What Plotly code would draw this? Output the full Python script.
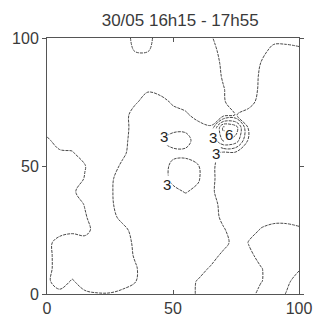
import plotly.graph_objects as go

# Grid of the measured field (5-unit spacing on both axes)
x_vals = [0, 5, 10, 15, 20, 25, 30, 35, 40, 45, 50, 55, 60, 65, 70, 75, 80, 85, 90, 95, 100]
y_vals = [0, 5, 10, 15, 20, 25, 30, 35, 40, 45, 50, 55, 60, 65, 70, 75, 80, 85, 90, 95, 100]

# One row per y value (bottom to top), one entry per x value
z_y000 = [2.5, 2.3, 2.5, 2.2, 2.05, 2.05, 2.3, 2.5, 2.5, 2.5, 2.5, 2.5, 1.85, 1.5, 1.5, 1.5, 1.5, 0.6, 0.5, -0.05, -0.6]
z_y005 = [2.2, 1.5, 2.1, 1.5, 1.5, 1.5, 1.5, 1.95, 2.5, 2.5, 2.5, 2.5, 1.9, 1.5, 1.5, 1.5, 1.5, 1.05, 0.5, 0.2, -0.4]
z_y010 = [2.35, 1.5, 1.5, 1.5, 1.5, 1.5, 1.5, 1.9, 2.5, 2.5, 2.5, 2.5, 2.5, 1.85, 1.5, 1.5, 1.5, 1.05, 0.5, 0.5, 0.1]
z_y015 = [2.35, 1.5, 1.5, 1.5, 1.5, 1.5, 1.5, 2.1, 2.5, 2.5, 2.5, 2.5, 2.5, 2.5, 1.7, 1.5, 1.3, 0.6, 0.5, 0.5, 0.5]
z_y020 = [2.35, 1.5, 1.5, 1.5, 1.5, 1.5, 1.5, 2.2, 2.5, 2.5, 2.5, 2.5, 2.5, 2.5, 2.4, 1.5, 0.95, 0.5, 0.5, 0.5, 0.5]
z_y025 = [2.5, 2.5, 2.2, 2.4, 1.5, 1.5, 1.6, 2.5, 2.5, 2.5, 2.5, 2.5, 2.5, 2.5, 2.1, 1.5, 1.5, 0.9, 0.5, 0.5, 0.8]
z_y030 = [2.5, 2.5, 2.5, 2.1, 1.5, 1.5, 2.4, 2.5, 2.5, 2.5, 2.5, 2.5, 2.5, 2.5, 1.75, 1.5, 1.5, 1.5, 1.5, 1.5, 1.5]
z_y035 = [2.5, 2.5, 2.5, 1.95, 1.5, 1.8, 2.5, 2.5, 2.5, 2.5, 2.5, 2.6, 2.5, 2.5, 1.6, 1.5, 1.5, 1.5, 1.5, 1.5, 1.5]
z_y040 = [2.5, 2.5, 2.2, 1.5, 1.5, 1.85, 2.5, 2.5, 2.5, 2.6, 2.8, 3.05, 2.8, 2.2, 1.5, 1.5, 1.5, 1.5, 1.5, 1.5, 1.5]
z_y045 = [2.5, 2.5, 2.5, 1.95, 1.5, 1.8, 2.5, 2.5, 2.5, 2.6, 3.2, 3.4, 3.1, 2.25, 1.5, 1.5, 1.5, 1.5, 1.5, 1.5, 1.5]
z_y050 = [2.5, 2.5, 2.5, 2.05, 1.5, 1.5, 2.2, 2.5, 2.5, 2.6, 3.2, 3.3, 3.05, 2.25, 1.5, 1.5, 1.5, 1.5, 1.5, 1.5, 1.5]
z_y055 = [2.5, 2.2, 2.1, 1.5, 1.5, 1.5, 1.8, 2.5, 2.5, 2.6, 2.8, 2.8, 2.6, 2.5, 1.7, 1.7, 1.5, 1.5, 1.5, 1.5, 1.5]
z_y060 = [2.2, 1.5, 1.5, 1.5, 1.5, 1.5, 1.65, 2.5, 2.5, 2.95, 3.3, 3.3, 2.6, 2.9, 5.2, 4.6, 1.8, 1.5, 1.5, 1.5, 1.5]
z_y065 = [1.5, 1.5, 1.5, 1.5, 1.5, 1.5, 1.5, 2.5, 2.5, 2.6, 2.8, 2.8, 2.5, 2.1, 6.3, 5.5, 1.8, 1.5, 1.5, 1.5, 1.5]
z_y070 = [1.5, 1.5, 1.5, 1.5, 1.5, 1.5, 1.5, 2.5, 2.5, 2.5, 2.5, 2.2, 1.5, 1.5, 1.5, 2.05, 1.5, 1.5, 1.5, 1.5, 1.5]
z_y075 = [1.5, 1.5, 1.5, 1.5, 1.5, 1.5, 1.5, 1.85, 2.5, 2.5, 1.8, 1.5, 1.5, 1.5, 1.9, 2.5, 2.5, 1.5, 1.5, 1.5, 1.5]
z_y080 = [1.5, 1.5, 1.5, 1.5, 1.5, 1.5, 1.5, 1.5, 1.85, 1.5, 1.5, 1.5, 1.5, 1.5, 1.95, 2.5, 2.5, 1.8, 1.5, 1.5, 1.5]
z_y085 = [1.5, 1.5, 1.5, 1.5, 1.5, 1.5, 1.5, 1.5, 1.5, 1.5, 1.5, 1.5, 1.5, 1.5, 2.1, 2.5, 2.5, 1.85, 1.5, 1.5, 1.5]
z_y090 = [1.5, 1.5, 1.5, 1.5, 1.5, 1.5, 1.5, 1.5, 1.5, 1.5, 1.5, 1.5, 1.5, 1.5, 2.2, 2.5, 2.5, 1.95, 1.5, 1.5, 1.5]
z_y095 = [1.5, 1.5, 1.5, 1.5, 1.5, 1.5, 1.5, 2.05, 2.05, 1.5, 1.5, 1.5, 1.5, 1.5, 2.5, 2.5, 2.5, 2.5, 1.5, 1.5, 1.75]
z_y100 = [1.5, 1.5, 1.5, 1.5, 1.5, 1.5, 1.5, 2.3, 2.3, 1.5, 1.5, 1.5, 1.5, 1.9, 2.5, 2.5, 2.5, 2.5, 2.5, 2.5, 2.5]

z_rows = [z_y000, z_y005, z_y010, z_y015, z_y020, z_y025, z_y030, z_y035, z_y040, z_y045,
          z_y050, z_y055, z_y060, z_y065, z_y070, z_y075, z_y080, z_y085, z_y090, z_y095, z_y100]

# Contour label positions and the level each one names
label_x = [46.5, 47.7, 66.0, 72.2, 67.2]
label_y = [61.7, 42.7, 61.1, 62.4, 54.8]
label_level = [3, 3, 3, 6, 3]

tick_vals = [0, 50, 100]
tick_text = ["0", "50", "100"]

title_text = "30/05 16h15 - 17h55"

FONT = "Liberation Sans, Arial, sans-serif"
INK = "#3a3a3a"

fig = go.Figure()
fig.add_trace(go.Contour(
    x=x_vals, y=y_vals, z=z_rows,
    contours=dict(start=0, end=6, size=1, coloring="none", showlabels=False),
    line=dict(color="#4a4a4a", width=1, dash="3px,1px"),
    showscale=False,
    hoverinfo="skip",
))

for lx, ly, lv in zip(label_x, label_y, label_level):
    fig.add_annotation(
        x=lx, y=ly, text=str(lv), showarrow=False,
        font=dict(family=FONT, size=15, color="#222222"),
        bgcolor="white", borderpad=0,
    )

fig.update_layout(
    width=324, height=329,
    margin=dict(l=42, r=17, t=38, b=28),
    paper_bgcolor="white", plot_bgcolor="white",
    showlegend=False,
    font=dict(family=FONT, size=16, color=INK),
    title=dict(text=title_text, x=0.556, xanchor="center", xref="container",
               y=0.94, yanchor="middle", yref="container",
               font=dict(family=FONT, size=17, color=INK)),
)
fig.update_xaxes(
    range=[0, 100], tickvals=tick_vals, ticktext=tick_text,
    showgrid=False, zeroline=False,
    showline=True, linecolor="#555555", linewidth=1, mirror="ticks",
    ticks="inside", ticklen=4, tickcolor="#555555",
    tickfont=dict(family=FONT, size=16, color=INK),
)
fig.update_yaxes(
    range=[0, 100], tickvals=tick_vals, ticktext=tick_text,
    showgrid=False, zeroline=False,
    showline=True, linecolor="#555555", linewidth=1, mirror="ticks",
    ticks="outside", ticklen=4, tickcolor="#555555",
    tickfont=dict(family=FONT, size=16, color=INK),
)

fig.write_html("out.html")
